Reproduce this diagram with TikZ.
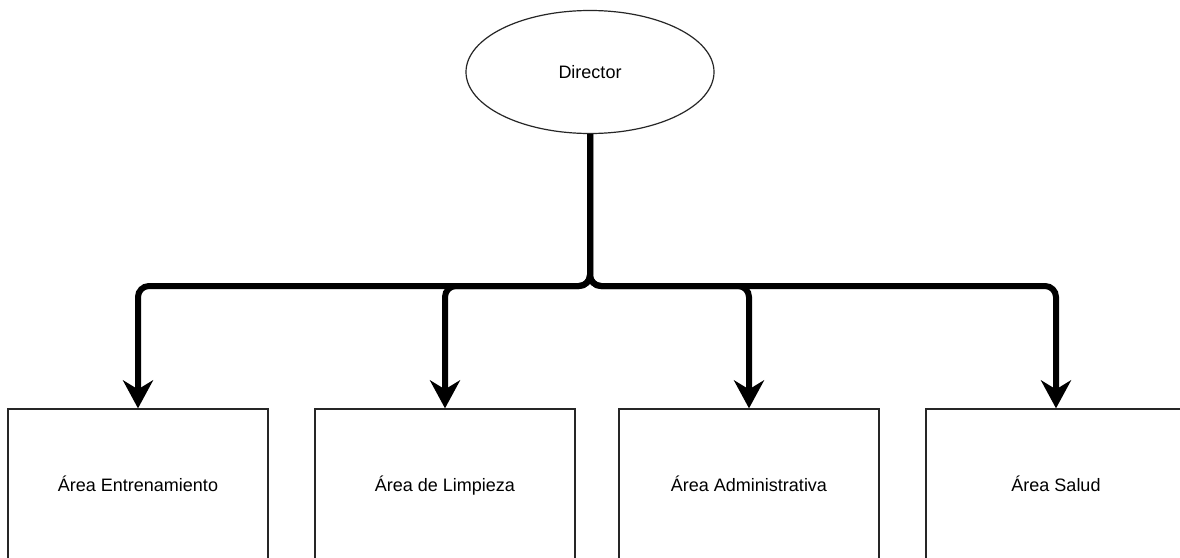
\documentclass[tikz,border=0pt]{standalone}
\usepackage{fontspec}
\setmainfont{Liberation Sans}
\usetikzlibrary{shapes.geometric,arrows.meta}
\tikzset{
  unit/.style={x=1pt,y=-1pt},
  txt/.style={font=\fontsize{18}{21}\selectfont, text=black,
    text height=15pt, text depth=2pt},
  boss/.style={ellipse, draw=black!85, line width=1.2pt, fill=white,
    minimum width=248pt, minimum height=123pt, inner sep=0pt, txt},
  areabox/.style={rectangle, draw=black!85, line width=1.3pt, fill=white,
    minimum width=260pt, minimum height=152pt, inner sep=0pt, txt},
  conn/.style={line width=6pt, black, rounded corners=11pt,
    -{Stealth[length=28pt 0 0, width=30pt 0 0, inset=9pt 0]}},
}
\begin{document}
\begin{tikzpicture}[unit]
  \useasboundingbox (0,0) rectangle (1180,557);
  \clip (0,0) rectangle (1180,557);
  \fill[white] (0,0) rectangle (1180,557);

  % top of the chart
  \node[boss] (dir) at (590,72) {Director};

  % departments
  \node[areabox] (a1) at (138,485) {Área Entrenamiento};
  \node[areabox] (a2) at (445,485) {Área de Limpieza};
  \node[areabox] (a3) at (749,485) {Área Administrativa};
  \node[areabox] (a4) at (1056,485) {Área Salud};

  % branching point of the connectors
  \coordinate (j) at (590,286);

  \draw[conn] (dir.south) -- (j) -| (a1.north);
  \draw[conn] (dir.south) -- (j) -| (a2.north);
  \draw[conn] (dir.south) -- (j) -| (a3.north);
  \draw[conn] (dir.south) -- (j) -| (a4.north);
\end{tikzpicture}
\end{document}
